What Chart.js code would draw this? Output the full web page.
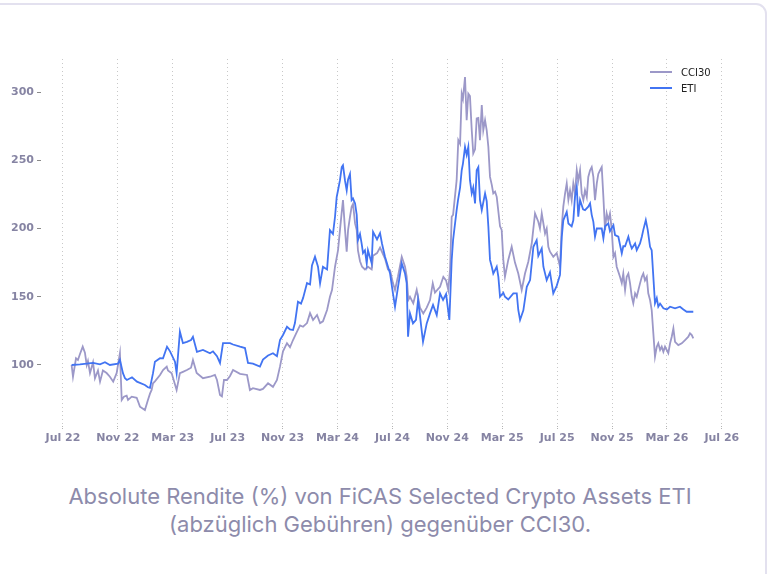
<!DOCTYPE html>
<html lang="de">
<head>
  <meta charset="UTF-8" />
  <meta name="viewport" content="width=device-width, initial-scale=1.0" />
  <title>FiCAS Selected Crypto Assets ETI vs CCI30</title>
  <script src="https://cdn.jsdelivr.net/npm/chart.js"></script>
  <style>
    body {
      margin: 0;
      background: #fff;
      width: 771px;
      height: 574px;
      overflow: hidden;
      position: relative;
      font-family: "DejaVu Sans", sans-serif;
    }
    .card {
      position: absolute;
      left: -30px;
      top: 3px;
      width: 797px;
      height: 640px;
      border: 2px solid #e3e1ef;
      border-radius: 11px;
      box-sizing: border-box;
    }
    .chart-box {
      position: absolute;
      left: 0;
      top: 0;
      width: 771px;
      height: 460px;
    }
    .legend {
      position: absolute;
      left: 650px;
      top: 64px;
      font-size: 10px;
      color: #222;
    }
    .legend div {
      height: 16px;
      display: flex;
      align-items: center;
    }
    .legend .swatch {
      display: inline-block;
      width: 22px;
      height: 2px;
      margin-right: 9px;
    }
    .caption {
      position: absolute;
      left: 0;
      top: 482px;
      width: 760px;
      text-align: center;
      font-family: Inter, sans-serif;
      font-size: 22px;
      line-height: 28px;
      color: #8d8bab;
    }
  </style>
</head>
<body>
  <div class="card"></div>
  <div class="chart-box"><canvas id="perfChart"></canvas></div>
  <div class="legend" id="legend"></div>
  <div class="caption">Absolute Rendite (%) von FiCAS Selected Crypto Assets ETI<br>(abzüglich Gebühren) gegenüber CCI30.</div>

  <script>
    // x values: months since Jul 2022
    const tickMonths = [0, 4, 8, 12, 16, 20, 24, 28, 32, 36, 40, 44, 48];
    const tickLabels = ['Jul 22', 'Nov 22', 'Mar 23', 'Jul 23', 'Nov 23', 'Mar 24', 'Jul 24',
                        'Nov 24', 'Mar 25', 'Jul 25', 'Nov 25', 'Mar 26', 'Jul 26'];
    const yTicks = [100, 150, 200, 250, 300];

    const etiMonths = [
      0.63,1.24,2.19,2.70,3.06,3.42,4.01,4.15,4.37,4.52,
      4.66,5.03,5.39,5.97,6.19,6.34,6.56,6.70,7.07,7.29,
      7.58,7.80,8.16,8.28,8.52,8.74,9.03,9.33,9.47,9.76,
      10.20,10.71,10.93,11.22,11.44,11.66,12.17,12.39,12.90,13.26,
      13.48,13.84,14.35,14.57,14.94,15.30,15.59,15.81,16.03,16.32,
      16.54,16.76,16.90,17.12,17.34,17.49,17.78,18.00,18.14,18.36,
      18.58,18.73,18.94,19.24,19.45,19.67,19.82,19.94,20.04,20.18,
      20.31,20.40,20.55,20.67,20.77,20.91,21.03,21.13,21.28,21.40,
      21.49,21.64,21.76,21.86,22.00,22.13,22.22,22.49,22.59,22.88,
      23.10,23.24,23.46,23.68,23.83,24.04,24.19,24.41,24.68,24.92,
      25.04,25.14,25.28,25.50,25.72,25.87,26.01,26.13,26.23,26.50,
      26.74,26.96,27.23,27.47,27.69,27.91,28.15,28.32,28.42,28.68,
      28.78,28.93,29.05,29.14,29.29,29.41,29.53,29.65,29.78,29.89,
      30.02,30.14,30.26,30.38,30.51,30.75,30.87,30.99,31.11,31.24,
      31.35,31.60,31.72,31.84,32.08,32.20,32.44,32.81,33.06,33.17,
      33.30,33.54,33.79,34.03,34.27,34.51,34.63,34.88,35.00,35.24,
      35.48,35.72,35.97,36.21,36.34,36.45,36.70,36.82,37.06,37.18,
      37.30,37.43,37.54,37.67,37.89,38.03,38.27,38.40,38.52,38.64,
      38.76,38.89,39.00,39.25,39.37,39.49,39.73,39.85,40.10,40.22,
      40.46,40.71,40.82,40.95,41.19,41.31,41.44,41.68,41.80,42.04,
      42.17,42.28,42.46,42.60,42.77,42.89,43.01,43.13,43.26,43.37,
      43.50,43.74,43.99,44.23,44.59,44.95,45.20,45.44,45.68,45.92
    ];
    const etiValues = [
      100,100.5,101.5,100.5,102,100,101,103.7,94,90.3,
      89,91,87.8,85.4,83.7,83.2,94,102.4,105,104.9,
      113.4,110,102.4,94,124.4,116,117,118.3,120.7,109.7,
      111,108.6,110,106.5,101.5,116,116,115,113.4,112.4,
      101.5,101,98.8,104,107,108.6,106.5,118.3,122,128,
      126,125.6,130.7,146.3,145,149,160,159,173,179.3,
      172,159.8,172,170,198.8,196,208.6,223,228,235.4,
      245,246.4,235,228,236,240,220.8,222,218.4,210,
      191.5,196,189,182,184,174.4,184,174.6,197.6,192,
      196.6,189,179.3,172,167,152.5,142.7,157.3,174.4,167,
      160,120.7,137.8,130.5,133,147.6,136,125.6,117,130.5,
      137.8,144,136.6,152.5,147.6,152,133,176.9,191.5,213.5,
      220.8,230,242.7,247.6,259.8,254,259.8,235.4,225.7,230,
      218.4,242.7,245,220.8,213.5,225.7,220,201.6,177,172,
      167,172,164.6,150,153,150,148,152.5,152.5,140.3,
      133,140,157.3,162.2,186.6,191.5,180,185.4,172,162.2,
      168,152.5,158,166,194,206,212.2,203.7,201.6,206,
      223.2,230.5,208.6,220.8,214,213.5,216,218.4,210,204.9,
      194,200,200,200,192.7,201.6,203.7,198,202.5,195.2,
      194,181.8,187,187,194,189,185.4,189,184.2,189,
      194,199,206.1,199,186.6,184,164.6,145.2,149,142.7,
      145,141.5,140.7,142.7,141.5,142.7,140.7,139,139,139
    ];

    const cciMonths = [
      0.63,0.73,0.95,1.09,1.24,1.44,1.60,1.73,1.82,1.97,
      2.19,2.33,2.55,2.70,2.91,3.18,3.42,3.66,3.91,4.15,
      4.28,4.44,4.64,4.74,5.01,5.37,5.61,5.97,6.19,6.34,
      6.46,6.56,6.70,7.07,7.29,7.56,7.65,7.92,8.28,8.52,
      8.74,9.03,9.33,9.47,9.74,10.20,10.71,11.07,11.22,11.44,
      11.58,11.73,11.95,12.17,12.39,12.90,13.41,13.62,13.84,14.35,
      14.57,14.94,15.30,15.59,15.81,16.03,16.32,16.54,16.76,16.98,
      17.27,17.49,17.78,18.00,18.22,18.51,18.73,18.94,19.24,19.45,
      19.60,19.82,20.04,20.18,20.31,20.40,20.55,20.67,20.77,20.91,
      21.03,21.13,21.28,21.40,21.49,21.64,21.79,22.00,22.22,22.49,
      22.59,22.88,23.10,23.46,23.68,23.83,24.04,24.19,24.41,24.68,
      24.92,25.04,25.16,25.28,25.52,25.77,26.01,26.25,26.50,26.74,
      26.94,27.10,27.47,27.71,27.91,28.07,28.20,28.32,28.42,28.68,
      28.80,28.93,29.05,29.14,29.29,29.41,29.53,29.65,29.78,29.89,
      30.02,30.14,30.26,30.38,30.51,30.62,30.75,30.87,30.99,31.11,
      31.24,31.35,31.48,31.60,31.84,31.96,32.08,32.20,32.44,32.69,
      32.93,33.17,33.42,33.66,33.90,34.15,34.39,34.63,34.75,34.88,
      35.12,35.24,35.36,35.48,35.72,35.97,36.21,36.34,36.45,36.58,
      36.70,36.82,36.94,37.06,37.18,37.30,37.43,37.54,37.67,37.79,
      37.91,38.03,38.16,38.27,38.40,38.52,38.64,38.76,38.89,39.00,
      39.13,39.25,39.37,39.49,39.61,39.73,39.85,39.98,40.10,40.22,
      40.34,40.58,40.71,40.82,40.95,41.07,41.19,41.31,41.44,41.55,
      41.68,41.80,41.92,42.04,42.17,42.28,42.40,42.53,42.64,42.77,
      42.89,43.01,43.13,43.26,43.37,43.50,43.62,43.74,43.86,44.10,
      44.23,44.35,44.47,44.59,44.83,45.08,45.32,45.56,45.68,45.81,
      45.92
    ];
    const cciValues = [
      100,91.4,104.9,103.7,108,113.4,109,100,103,94.1,
      102,90.3,96,87.8,96,94.1,91.4,87.8,94,108.6,
      74.4,76.8,77.5,74.4,76.8,76,69.5,67,74.4,79,
      81.7,86.6,88,92.7,96.3,98.8,96,94,81.7,94,
      95,96.3,98,103.7,94.1,90.3,91.4,92.7,89,78,
      77,89,89,92,96.3,93.5,92.7,81.7,83,81.7,
      82.5,86.6,84,89,98.8,110,116,113,118.3,123,
      129,128,130.7,138,133,136.6,130.7,132,140.3,150,
      154.9,172,184.2,198.8,212.2,220.8,198.8,183,198.8,208.6,
      216,218,203.7,198.8,184,176,172,170,172,170,
      180,182,186,178,170,169.5,160,155,165,179.3,
      172,165,147.6,150,145.2,155,142,137.8,142,147.6,
      159.8,153,157.3,164.6,162,155,170,208.6,210,235.4,
      264.7,262,298.8,295,311,279.4,298.8,297,272,255,
      258,280.6,281,264.7,290.4,272,279.4,272,259.8,237.8,
      232,225.7,227,223.2,201.6,199,177,164.6,177,186.6,
      175,167,155,167,175.7,189,211,205,200,211,
      196.4,200,186.6,183,179.3,182,172,201.6,216,225.7,
      233,221,228,220.8,233,225.7,242.7,235,242.7,225.7,
      220.8,228,223,237.8,242.7,245,237.8,220.8,233,240,
      242.7,245,223.2,198.8,211,206,211,199,179.3,182,
      172,164.6,160,167,155,164.6,167,160,150,145.2,
      152.5,150,155,159.8,164.6,167,162,164.6,152.5,147.6,
      140.3,123.2,106.1,113.4,115.9,111,113.4,109.7,113.4,108.6,
      115.9,120.7,126.8,117,114.6,115.9,118.3,120.7,123.2,121.9,
      119.5
    ];

    const tickColor = '#8684a3';
    const tickFont = { family: 'DejaVu Sans', size: 11, weight: 'bold' };

    const datasets = [
      {
        label: 'CCI30',
        data: cciMonths.map((m, i) => ({ x: m, y: cciValues[i] })),
        borderColor: '#9c98c8',
        borderWidth: 1.8,
        pointRadius: 0,
        tension: 0,
        order: 2
      },
      {
        label: 'ETI',
        data: etiMonths.map((m, i) => ({ x: m, y: etiValues[i] })),
        borderColor: '#4274f2',
        borderWidth: 1.8,
        pointRadius: 0,
        tension: 0,
        order: 1
      }
    ];

    const ctx = document.getElementById('perfChart').getContext('2d');
    new Chart(ctx, {
      type: 'line',
      data: { datasets: datasets },
      options: {
        responsive: true,
        maintainAspectRatio: false,
        animation: false,
        devicePixelRatio: 1,
        layout: { padding: { top: 59, right: 46, left: 0, bottom: 0 } },
        plugins: {
          legend: { display: false },
          tooltip: { enabled: false }
        },
        scales: {
          x: {
            type: 'linear',
            min: -1.6,
            max: 48.23,
            afterBuildTicks: scale => { scale.ticks = tickMonths.map(v => ({ value: v })); },
            afterFit: scale => { scale.height = 34; },
            ticks: {
              callback: value => tickLabels[tickMonths.indexOf(value)],
              autoSkip: false,
              maxRotation: 0,
              font: tickFont,
              color: tickColor,
              padding: 2
            },
            grid: {
              color: '#c8c8c8',
              lineWidth: 1,
              drawTicks: true,
              tickLength: 4,
              tickColor: '#b4b4b4',
              tickBorderDash: [1, 1]
            },
            border: { display: false, dash: [1, 3] }
          },
          y: {
            min: 55.3,
            max: 324.2,
            afterBuildTicks: scale => { scale.ticks = yTicks.map(v => ({ value: v })); },
            afterFit: scale => { scale.width = 41; },
            ticks: {
              font: tickFont,
              color: tickColor,
              padding: 3
            },
            grid: {
              drawOnChartArea: false,
              drawTicks: true,
              tickLength: 4,
              tickColor: '#8a8a8a'
            },
            border: { display: false }
          }
        }
      }
    });

    // legend drawn as HTML, stacked like the reference
    const legend = document.getElementById('legend');
    datasets.forEach(ds => {
      const row = document.createElement('div');
      row.innerHTML = `<span class="swatch" style="background:${ds.borderColor}"></span>${ds.label}`;
      legend.appendChild(row);
    });
  </script>
</body>
</html>
